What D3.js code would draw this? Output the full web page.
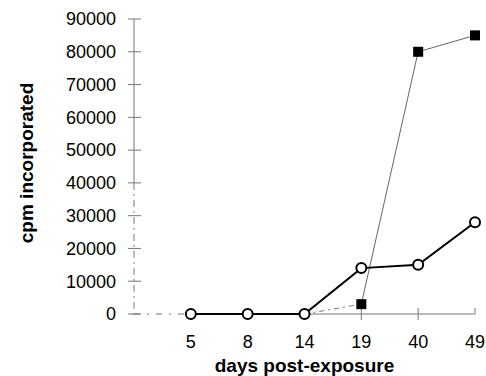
<!DOCTYPE html>
<html>
<head>
<meta charset="utf-8">
<script src="https://cdn.jsdelivr.net/npm/d3@7/dist/d3.min.js"></script>
<style>
  body { margin: 0; background: #fff; }
  text { font-family: Arial, "Liberation Sans", sans-serif; fill: #000; }
</style>
</head>
<body>
<div id="chart"></div>
<script>
const days = ['5', '8', '14', '19', '40', '49']
const circleValues = [0, 0, 0, 14000, 15000, 28000]
const squareValues = [0, 0, 0, 3000, 80000, 85000]
const yTicks = [0, 10000, 20000, 30000, 40000, 50000, 60000, 70000, 80000, 90000]

const width = 486
const height = 376
const margin = { top: 19, right: 11, bottom: 62, left: 134 }

const svg = d3.select('#chart')
  .append('svg')
  .attr('width', width)
  .attr('height', height)

// bands end at each category, so the marks sit on the right edge of a band
const band = d3.scaleBand()
  .domain(days)
  .range([margin.left, width - margin.right])
const x = d => band(d) + band.bandwidth()

const y = d3.scaleLinear()
  .domain([0, 90000])
  .range([height - margin.bottom, margin.top])

const axisColor = '#777'

// y axis: solid on top, broken dash below 40000 like the scan
const yAxis = svg.append('g')
yAxis.append('line')
  .attr('x1', margin.left).attr('x2', margin.left)
  .attr('y1', y(90000)).attr('y2', y(40000))
  .attr('stroke', axisColor)
yAxis.append('line')
  .attr('x1', margin.left).attr('x2', margin.left)
  .attr('y1', y(40000)).attr('y2', y(0) + 4)
  .attr('stroke', axisColor)
  .attr('stroke-dasharray', '7,4,2,4')

yAxis.selectAll('.tick')
  .data(yTicks)
  .join('line')
  .attr('x1', margin.left - 6)
  .attr('x2', margin.left + 7)
  .attr('y1', d => y(d))
  .attr('y2', d => y(d))
  .attr('stroke', axisColor)

yAxis.selectAll('text')
  .data(yTicks)
  .join('text')
  .attr('x', margin.left - 18)
  .attr('y', d => y(d))
  .attr('dy', '0.35em')
  .attr('text-anchor', 'end')
  .style('font-size', '18px')
  .text(d => d)

// x axis
const xAxis = svg.append('g')
xAxis.append('line')
  .attr('x1', margin.left).attr('x2', x(days[0]))
  .attr('y1', y(0)).attr('y2', y(0))
  .attr('stroke', axisColor)
  .attr('stroke-dasharray', '6,7,2,7')
xAxis.append('line')
  .attr('x1', x(days[0])).attr('x2', x(days[days.length - 1]))
  .attr('y1', y(0)).attr('y2', y(0))
  .attr('stroke', axisColor)

xAxis.selectAll('.tick')
  .data(days)
  .join('line')
  .attr('x1', d => x(d)).attr('x2', d => x(d))
  .attr('y1', y(0) - 6)
  .attr('y2', (d, i) => i === days.length - 1 ? y(0) : y(0) + 6)
  .attr('stroke', axisColor)

xAxis.selectAll('text')
  .data(days)
  .join('text')
  .attr('x', d => x(d))
  .attr('y', 348)
  .attr('text-anchor', 'middle')
  .style('font-size', '18px')
  .text(d => d)

// axis titles
svg.append('text')
  .attr('x', (margin.left + width - margin.right) / 2)
  .attr('y', 372)
  .attr('text-anchor', 'middle')
  .style('font-size', '19px')
  .style('font-weight', 'bold')
  .text('days post-exposure')

svg.append('text')
  .attr('transform', `translate(33,${163}) rotate(-90)`)
  .attr('text-anchor', 'middle')
  .style('font-size', '19px')
  .style('font-weight', 'bold')
  .text('cpm incorporated')

// square series: thin grey line
const squarePts = days.map((d, i) => ({ d, v: squareValues[i] }))
const circlePts = days.map((d, i) => ({ d, v: circleValues[i] }))

const line = d3.line().x(p => x(p.d)).y(p => y(p.v))

svg.append('path')
  .datum(squarePts.slice(2, 4))
  .attr('d', line)
  .attr('fill', 'none')
  .attr('stroke', '#777')
  .attr('stroke-dasharray', '5,4,2,4')

svg.append('path')
  .datum(squarePts.slice(3))
  .attr('d', line)
  .attr('fill', 'none')
  .attr('stroke', '#666')
  .attr('stroke-width', 1)

svg.append('path')
  .datum(circlePts)
  .attr('d', line)
  .attr('fill', 'none')
  .attr('stroke', '#000')
  .attr('stroke-width', 2)

const sq = 10
svg.selectAll('.sq')
  .data(squarePts.filter(p => p.v > 0))
  .join('rect')
  .attr('x', p => x(p.d) - sq / 2)
  .attr('y', p => y(p.v) - sq / 2)
  .attr('width', sq)
  .attr('height', sq)
  .attr('fill', '#000')

svg.selectAll('.ci')
  .data(circlePts)
  .join('circle')
  .attr('cx', p => x(p.d))
  .attr('cy', p => y(p.v))
  .attr('r', 5)
  .attr('fill', '#fff')
  .attr('stroke', '#000')
  .attr('stroke-width', 2)
</script>
</body>
</html>
